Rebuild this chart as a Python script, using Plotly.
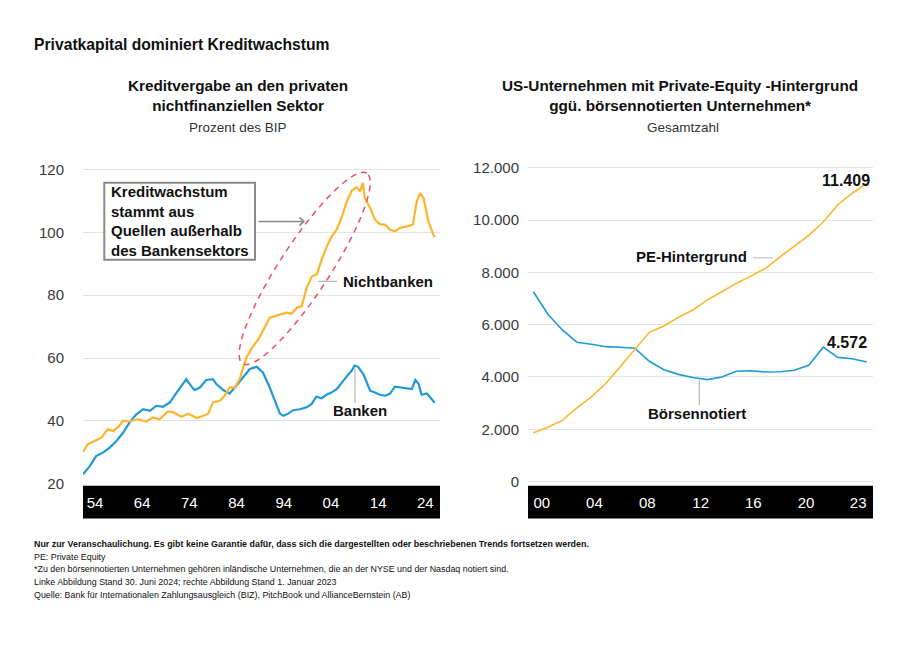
import numpy as np
import plotly.graph_objects as go

W, H = 910, 647
H_EFF = 640  # observed rendered vertical extent of the page

# ---------------- data: left chart (credit to private non-financial sector, % of GDP)
banks_years = [1952.0, 1953.4, 1954.7, 1956.1, 1957.5, 1958.9, 1960.3, 1961.6, 1963.0, 1964.4,
               1965.8, 1967.1, 1968.5, 1969.9, 1971.3, 1972.6, 1973.3, 1974.0, 1975.0, 1976.1,
               1977.4, 1978.8, 1979.5, 1980.9, 1982.2, 1983.6, 1985.0, 1986.4, 1987.8, 1989.1,
               1990.5, 1991.5, 1992.6, 1993.3, 1994.3, 1995.3, 1996.7, 1998.1, 1999.1, 2000.1,
               2001.2, 2002.2, 2003.2, 2004.3, 2005.3, 2006.3, 2007.4, 2008.0, 2008.7, 2009.8,
               2010.5, 2011.2, 2012.2, 2013.2, 2014.3, 2015.3, 2016.3, 2017.4, 2018.8, 2019.8,
               2020.5, 2021.2, 2021.8, 2022.9, 2023.9, 2024.5]
banks = [23.0, 25.6, 28.8, 29.9, 31.5, 33.6, 36.3, 39.5, 42.1, 43.7,
         43.2, 44.8, 44.5, 45.9, 49.0, 51.7, 53.3, 51.7, 49.8, 50.6,
         53.0, 53.3, 51.7, 49.8, 48.7, 51.2, 53.8, 56.5, 57.2, 55.4,
         50.6, 46.4, 42.3, 41.6, 42.3, 43.4, 43.7, 44.3, 45.3, 47.7,
         47.2, 48.3, 49.0, 50.1, 52.2, 54.0, 56.0, 57.6, 57.2, 54.9,
         52.2, 49.6, 49.0, 48.3, 48.0, 48.7, 50.9, 50.6, 50.4, 50.1,
         53.0, 51.7, 48.3, 48.7, 46.9, 45.7]

nonbanks_years = [1952.0, 1953.0, 1954.4, 1955.8, 1957.1, 1958.2, 1959.5, 1960.2, 1961.6, 1963.3,
                  1965.1, 1966.4, 1967.8, 1969.5, 1970.6, 1972.3, 1973.7, 1975.4, 1976.8, 1977.8,
                  1978.8, 1980.2, 1981.2, 1982.2, 1983.3, 1984.3, 1985.0, 1985.7, 1986.7, 1988.3,
                  1990.5, 1992.6, 1994.0, 1995.0, 1996.1, 1997.1, 1998.1, 1999.2, 2000.2, 2001.2,
                  2002.3, 2003.3, 2004.3, 2005.4, 2006.4, 2007.4, 2008.4, 2009.1, 2009.7, 2010.1,
                  2011.2, 2012.2, 2013.2, 2014.3, 2015.3, 2016.3, 2017.4, 2018.8, 2020.0, 2020.8,
                  2021.5, 2022.2, 2023.2, 2024.2, 2024.5]
nonbanks = [30.2, 32.6, 33.6, 34.7, 37.3, 36.8, 38.4, 40.0, 39.8, 40.5,
            39.8, 41.1, 40.5, 43.0, 42.7, 41.3, 42.3, 40.9, 41.6, 42.3,
            45.9, 46.4, 48.0, 50.6, 50.6, 53.3, 56.8, 60.2, 62.9, 66.3,
            72.8, 73.9, 74.4, 74.1, 76.0, 76.5, 82.3, 86.0, 86.6, 91.3,
            95.6, 98.7, 100.8, 105.1, 109.8, 113.2, 114.3, 113.0, 115.7, 110.9,
            107.7, 104.0, 102.6, 102.4, 100.8, 100.3, 101.4, 101.9, 102.4, 109.8,
            112.5, 110.9, 103.5, 99.3, 98.4]

# ---------------- data: right chart (US companies, count)
us_years = list(range(2000, 2024))
pe_backed = [1870, 2080, 2340, 2820, 3240, 3750, 4400, 5070, 5710, 5950, 6280, 6560,
             6950, 7260, 7580, 7860, 8150, 8590, 9000, 9420, 9930, 10590, 11030, 11409]
listed = [7260, 6400, 5800, 5330, 5250, 5160, 5140, 5100, 4600, 4280, 4100, 3980,
          3900, 4000, 4220, 4240, 4190, 4200, 4260, 4450, 5140, 4750, 4700, 4572]

# ---------------- ticks
left_xtick_pos = [1954.47, 1964.2, 1973.93, 1983.66, 1993.39, 2003.12, 2012.85, 2022.58]
left_xtick_text = ["54", "64", "74", "84", "94", "04", "14", "24"]
left_ytick_vals = [20, 40, 60, 80, 100, 120]
right_xtick_pos = [2000.58, 2004.21, 2007.86, 2011.54, 2015.17, 2018.81, 2022.41]
right_xtick_text = ["00", "04", "08", "12", "16", "20", "23"]
right_ytick_vals = [0, 2000, 4000, 6000, 8000, 10000, 12000]
right_ytick_text = ["0", "2.000", "4.000", "6.000", "8.000", "10.000", "12.000"]

# ---------------- styling / geometry
ORANGE = "#FDB52B"
BLUE = "#1F9AD6"
RED = "#EE5065"
GRID = "#E4E4E4"
FONT = "Liberation Sans, Arial, sans-serif"

PLOT_TOP, PLOT_BOTTOM = 160, 484
L_X0, L_X1 = 83, 440
R_X0, R_X1 = 528, 873
BAND_Y0, BAND_Y1 = 486, 519

L_XR = [1952, 2025.6]
L_YR = [20, 122.6]
R_XR = [1999.63, 2023.43]
R_YR = [-84, 12254]


def px(x):
    return x / W


def py(y):
    return 1 - y / H_EFF


fig = go.Figure()

fig.add_trace(go.Scatter(x=banks_years, y=banks, mode="lines", line=dict(color=BLUE, width=2.2),
                         xaxis="x", yaxis="y", showlegend=False, hoverinfo="skip"))
fig.add_trace(go.Scatter(x=nonbanks_years, y=nonbanks, mode="lines", line=dict(color=ORANGE, width=2.2),
                         xaxis="x", yaxis="y", showlegend=False, hoverinfo="skip"))
fig.add_trace(go.Scatter(x=us_years, y=listed, mode="lines", line=dict(color=BLUE, width=1.6),
                         xaxis="x2", yaxis="y2", showlegend=False, hoverinfo="skip"))
fig.add_trace(go.Scatter(x=us_years, y=pe_backed, mode="lines", line=dict(color=ORANGE, width=1.6),
                         xaxis="x2", yaxis="y2", showlegend=False, hoverinfo="skip"))

tick_font = dict(family=FONT, size=15, color="#3a3a3a")
band_font = dict(family=FONT, size=15, color="white")

fig.update_layout(
    width=W, height=H,
    margin=dict(l=0, r=0, t=0, b=0),
    paper_bgcolor="white", plot_bgcolor="white",
    showlegend=False,
    xaxis=dict(domain=[px(L_X0), px(L_X1)], range=L_XR, tickvals=left_xtick_pos, ticktext=left_xtick_text,
               showgrid=False, zeroline=False, showline=False, ticks="", tickfont=band_font,
               ticklabelstandoff=8, anchor="y", fixedrange=True),
    yaxis=dict(domain=[py(PLOT_BOTTOM), py(PLOT_TOP)], range=L_YR, tickvals=left_ytick_vals,
               showgrid=True, gridcolor=GRID, gridwidth=1, zeroline=False, showline=False, ticks="",
               tickfont=tick_font, ticklabelstandoff=18, anchor="x", fixedrange=True),
    xaxis2=dict(domain=[px(R_X0), px(R_X1)], range=R_XR, tickvals=right_xtick_pos, ticktext=right_xtick_text,
                showgrid=False, zeroline=False, showline=False, ticks="", tickfont=band_font,
                ticklabelstandoff=8, anchor="y2", fixedrange=True),
    yaxis2=dict(domain=[py(PLOT_BOTTOM), py(PLOT_TOP)], range=R_YR, tickvals=right_ytick_vals,
                ticktext=right_ytick_text, showgrid=True, gridcolor=GRID, gridwidth=1, zeroline=False,
                showline=False, ticks="", tickfont=tick_font, ticklabelstandoff=8, anchor="x2",
                fixedrange=True),
)

shapes = []
# black bands holding the x tick labels
for xr in ("x domain", "x2 domain"):
    shapes.append(dict(type="rect", xref=xr, yref="paper", x0=0, x1=1, y0=py(BAND_Y1), y1=py(BAND_Y0),
                       fillcolor="black", line=dict(width=0), layer="below"))

# left: annotation box
shapes.append(dict(type="rect", xref="x", yref="y", x0=1956.39, x1=1987.46, y0=91.25, y1=115.73,
                   fillcolor="white", line=dict(color="#8a8a8a", width=2), layer="above"))
# left: leader lines
shapes.append(dict(type="line", xref="x", yref="y", x0=2000.45, x1=2004.37, y0=84.38, y1=84.38,
                   line=dict(color="#B8B8B8", width=1.2)))
shapes.append(dict(type="line", xref="x", yref="y", x0=2008.08, x1=2008.08, y0=56.7, y1=45.65,
                   line=dict(color="#B8B8B8", width=1.2)))
# right: leader lines
shapes.append(dict(type="line", xref="x2", yref="y2", x0=2015.15, x1=2016.53, y0=8561, y1=8561,
                   line=dict(color="#D0D0D0", width=1.5)))
shapes.append(dict(type="line", xref="x2", yref="y2", x0=2011.45, x1=2011.45, y0=3876, y1=2925,
                   line=dict(color="#B8B8B8", width=1.2)))

# left: dashed highlight ellipse (centre in data units, semi-axes in pixels, tilted)
ell_cx, ell_cy = 1997.7, 88.5
ell_a, ell_b, ell_ang = 114.0, 25.0, np.deg2rad(57)
ppx = (L_X1 - L_X0) / (L_XR[1] - L_XR[0])
ppy = (PLOT_BOTTOM - PLOT_TOP) / (L_YR[1] - L_YR[0])
t = np.linspace(0, 2 * np.pi, 161)
dx = ell_a * np.cos(t) * np.cos(ell_ang) - ell_b * np.sin(t) * np.sin(ell_ang)
dy = ell_a * np.cos(t) * np.sin(ell_ang) + ell_b * np.sin(t) * np.cos(ell_ang)
ex = ell_cx + dx / ppx
ey = ell_cy + dy / ppy
path = "M " + " L ".join(f"{a:.4f},{b:.4f}" for a, b in zip(ex, ey)) + " Z"
shapes.append(dict(type="path", xref="x", yref="y", path=path,
                   line=dict(color=RED, width=1.5, dash="6px,5px"), layer="above"))

fig.update_layout(shapes=shapes)

ann = []
bold = lambda s: f"<b>{s}</b>"

# titles
ann.append(dict(xref="paper", yref="paper", x=px(32), y=py(43), xanchor="left", yanchor="middle",
                text=bold("Privatkapital dominiert Kreditwachstum"), showarrow=False,
                font=dict(family=FONT, size=15.7, color="#111")))
ann.append(dict(xref="paper", yref="paper", x=px(238), y=py(94), xanchor="center", yanchor="middle",
                text=bold("Kreditvergabe an den privaten<br>nichtfinanziellen Sektor"), showarrow=False,
                font=dict(family=FONT, size=15.3, color="#111")))
ann.append(dict(xref="paper", yref="paper", x=px(238), y=py(126), xanchor="center", yanchor="middle",
                text="Prozent des BIP", showarrow=False, font=dict(family=FONT, size=13.5, color="#333")))
ann.append(dict(xref="paper", yref="paper", x=px(680), y=py(94), xanchor="center", yanchor="middle",
                text=bold("US-Unternehmen mit Private-Equity -Hintergrund<br>ggü. börsennotierten Unternehmen*"),
                showarrow=False, font=dict(family=FONT, size=15.3, color="#111")))
ann.append(dict(xref="paper", yref="paper", x=px(683), y=py(126), xanchor="center", yanchor="middle",
                text="Gesamtzahl", showarrow=False, font=dict(family=FONT, size=13.5, color="#333")))

# left chart labels
lab_font = dict(family=FONT, size=15, color="#111")
ann.append(dict(xref="x", yref="y", x=1957.42, y=103.5, xanchor="left", yanchor="middle", align="left",
                text=bold("Kreditwachstum<br>stammt aus<br>Quellen außerhalb<br>des Bankensektors"),
                showarrow=False, font=lab_font))
ann.append(dict(xref="x", yref="y", x=1997.77, y=103.45, ax=1987.9, ay=103.45, axref="x", ayref="y",
                text="", showarrow=True, arrowhead=4, arrowsize=1, arrowwidth=1.6, arrowcolor="#8a8a8a"))
ann.append(dict(xref="x", yref="y", x=2005.13, y=84.38, xanchor="left", yanchor="middle",
                text=bold("Nichtbanken"), showarrow=False, font=lab_font))
ann.append(dict(xref="x", yref="y", x=2009.11, y=43.21, xanchor="center", yanchor="middle",
                text=bold("Banken"), showarrow=False, font=lab_font))

# right chart labels
ann.append(dict(xref="x2", yref="y2", x=2023.35, y=11531, xanchor="right", yanchor="middle",
                text=bold("11.409"), showarrow=False, font=dict(family=FONT, size=16, color="#111")))
ann.append(dict(xref="x2", yref="y2", x=2023.17, y=5335, xanchor="right", yanchor="middle",
                text=bold("4.572"), showarrow=False, font=dict(family=FONT, size=16, color="#111")))
ann.append(dict(xref="x2", yref="y2", x=2014.87, y=8610, xanchor="right", yanchor="middle",
                text=bold("PE-Hintergrund"), showarrow=False, font=lab_font))
ann.append(dict(xref="x2", yref="y2", x=2011.29, y=2609, xanchor="center", yanchor="middle",
                text=bold("Börsennotiert"), showarrow=False, font=lab_font))

# footnotes
notes = [
    (545, bold("Nur zur Veranschaulichung. Es gibt keine Garantie dafür, dass sich die dargestellten oder beschriebenen Trends fortsetzen werden.")),
    (558, "PE: Private Equity"),
    (570, "*Zu den börsennotierten Unternehmen gehören inländische Unternehmen, die an der NYSE und der Nasdaq notiert sind."),
    (583, "Linke Abbildung Stand 30. Juni 2024; rechte Abbildung Stand 1. Januar 2023"),
    (596, "Quelle: Bank für Internationalen Zahlungsausgleich (BIZ), PitchBook und AllianceBernstein (AB)"),
]
for yy, txt in notes:
    ann.append(dict(xref="paper", yref="paper", x=px(32), y=py(yy), xanchor="left", yanchor="middle",
                    text=txt, showarrow=False, font=dict(family=FONT, size=8.9, color="#111")))

fig.update_layout(annotations=ann)

fig.write_html("out.html", config={"displayModeBar": False},
               post_script="document.body.style.margin='0px';document.body.style.padding='0px';")
